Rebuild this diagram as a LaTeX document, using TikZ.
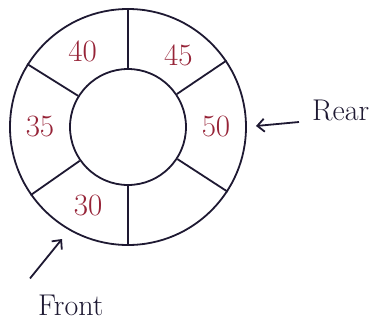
\documentclass[tikz,border=0pt]{standalone}
\usetikzlibrary{arrows.meta}
\definecolor{ink}{RGB}{30,25,50}
\definecolor{numred}{RGB}{150,35,55}
\tikzset{
  ring/.style={circle,draw=ink,line width=1.8pt,inner sep=0pt},
  slot/.style={text=numred,font=\fontsize{31}{31}\selectfont},
  tag/.style={text=ink,font=\fontsize{30}{30}\selectfont},
  pointer/.style={ink,line width=1.8pt,-{Straight Barb[length=7pt,width=13pt]}}
}
\begin{document}
\begin{tikzpicture}[x=1pt,y=1pt,line width=1.8pt,draw=ink]
  \useasboundingbox (-128,-203) rectangle (253,127);
  \node[ring,minimum size=236pt] (outer) at (0,0) {};
  \node[ring,minimum size=116pt] (inner) at (0,0) {};
  % spokes between the two rings
  \foreach \a in {90,34,-33,-90,-145,148}
    \draw[ink] (inner.\a) -- (outer.\a);
  % queue contents
  \foreach \a/\v in {121/40,55/45,0/50,243/30,180/35}
    \node[slot] (n\v) at (\a:88) {\v};
  \node[tag,anchor=west] (rear) at (180,17) {Rear};
  \coordinate (reartip) at (128,1);
  \draw[pointer] (rear.west) ++(-9,-12) -- (reartip);
  \node[tag,anchor=west] (front) at (-94,-178) {Front};
  \coordinate (fronttip) at (-66,-112);
  \draw[pointer] (front.north west) ++(-4,12) -- (fronttip);
\end{tikzpicture}
\end{document}
